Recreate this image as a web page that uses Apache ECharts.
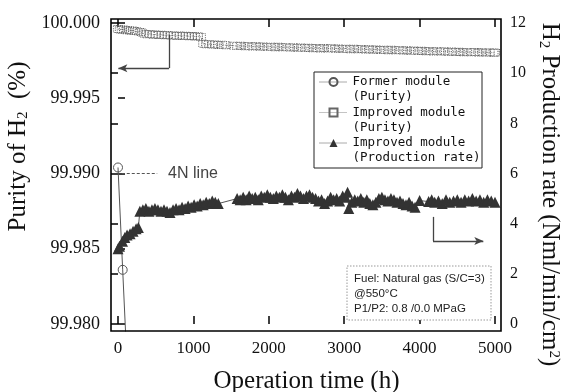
<!DOCTYPE html>
<html>
<head>
<meta charset="utf-8">
<script src="https://cdn.jsdelivr.net/npm/echarts@6.0.0/dist/echarts.min.js"></script>
<style>
  html, body { margin: 0; padding: 0; background: #fff; }
  #chart { width: 561px; height: 392px; }
</style>
</head>
<body>
<div id="chart"></div>
<script>
// former module, purity (%)
const formerTime = [0, 62, 100]
const formerPurity = [99.9904, 99.9836, 99.9795]

// improved module, purity (%)
const purityTime = [0, 25, 50, 80, 110, 140, 170, 200, 230, 260, 300, 340, 380, 420, 460, 500, 540, 580, 620, 660,
  700, 740, 780, 820, 860, 900, 940, 980, 1020, 1060, 1100, 1130, 1170, 1210, 1250, 1290, 1330, 1380, 1430,
  1530, 1580, 1630, 1680, 1730, 1780, 1830, 1880, 1930, 1980, 2030, 2080, 2130, 2180, 2230, 2280, 2330, 2380,
  2430, 2480, 2530, 2580, 2630, 2680, 2730, 2780, 2830, 2880, 2930, 2980, 3030, 3080, 3130, 3180, 3230, 3280,
  3330, 3380, 3430, 3480, 3530, 3580, 3630, 3680, 3730, 3780, 3830, 3880, 3930, 3980, 4030, 4080, 4130, 4180,
  4230, 4280, 4330, 4380, 4430, 4480, 4530, 4580, 4630, 4680, 4730, 4780, 4830, 4880, 4930, 4980, 5000]
const purityImproved = [99.99960, 99.99957, 99.99955, 99.99958, 99.99952, 99.99954, 99.99948, 99.99950, 99.99946,
  99.99944, 99.99940, 99.99930, 99.99925, 99.99928, 99.99922, 99.99924, 99.99920, 99.99922, 99.99918, 99.99920,
  99.99916, 99.99918, 99.99914, 99.99917, 99.99913, 99.99915, 99.99912, 99.99914, 99.99910, 99.99912, 99.99908,
  99.99862, 99.99858, 99.99860, 99.99856, 99.99858, 99.99854, 99.99856, 99.99852,
  99.99850, 99.99846, 99.99849, 99.99845, 99.99848, 99.99844, 99.99846, 99.99842, 99.99845, 99.99841, 99.99843,
  99.99839, 99.99842, 99.99838, 99.99840, 99.99836, 99.99839, 99.99835, 99.99838, 99.99834, 99.99836, 99.99832,
  99.99835, 99.99831, 99.99834, 99.99830, 99.99833, 99.99829, 99.99831, 99.99828, 99.99830, 99.99826, 99.99829,
  99.99825, 99.99827, 99.99823, 99.99826, 99.99822, 99.99825, 99.99821, 99.99823, 99.99819, 99.99822, 99.99818,
  99.99820, 99.99817, 99.99819, 99.99815, 99.99818, 99.99814, 99.99816, 99.99812, 99.99815, 99.99811, 99.99813,
  99.99810, 99.99812, 99.99808, 99.99811, 99.99807, 99.99809, 99.99806, 99.99808, 99.99805, 99.99807, 99.99804,
  99.99806, 99.99803, 99.99805, 99.99802, 99.99804]

// improved module, H2 production rate (Nml/min/cm2)
const prodTime = [0, 20, 60, 90, 120, 160, 200, 240, 270, 290, 330, 370, 410, 450, 490, 530, 570, 610, 650, 690,
  730, 770, 810, 850, 890, 930, 970, 1010, 1050, 1090, 1130, 1170, 1210, 1250, 1290, 1330, 1580, 1620, 1660,
  1700, 1740, 1780, 1820, 1860, 1900, 1940, 1980, 2020, 2060, 2100, 2140, 2180, 2220, 2260, 2300, 2340, 2380,
  2420, 2460, 2500, 2540, 2580, 2620, 2660, 2700, 2740, 2780, 2820, 2860, 2900, 2940, 2980, 3020, 3045, 3060,
  3100, 3140, 3180, 3220, 3260, 3300, 3340, 3380, 3420, 3460, 3500, 3540, 3580, 3620, 3660, 3700, 3740, 3780,
  3820, 3860, 3900, 3940, 4000, 4120, 4160, 4200, 4250, 4300, 4350, 4400, 4450, 4500, 4550, 4600, 4650, 4700,
  4750, 4800, 4850, 4900, 4950, 5000]
const prodRate = [3.0, 3.1, 3.3, 3.45, 3.55, 3.6, 3.7, 3.8, 3.85, 4.5, 4.55, 4.6, 4.5, 4.55, 4.6, 4.55, 4.5, 4.55,
  4.5, 4.45, 4.55, 4.6, 4.55, 4.65, 4.6, 4.7, 4.65, 4.75, 4.7, 4.8, 4.75, 4.85, 4.8, 4.9, 4.85, 4.8, 5.0, 4.95,
  5.05, 4.95, 5.1, 5.0, 5.05, 4.95, 5.1, 5.05, 5.15, 5.05, 5.0, 5.1, 5.05, 5.15, 5.05, 4.95, 5.1, 5.05, 5.2, 5.1,
  5.0, 5.1, 5.15, 5.05, 5.0, 4.9, 4.95, 4.8, 4.9, 5.05, 4.95, 5.0, 4.9, 5.1, 5.05, 5.25, 4.6, 4.85, 4.95, 4.9,
  5.0, 4.85, 4.95, 4.8, 4.75, 4.85, 5.0, 5.05, 4.95, 4.9, 5.0, 4.95, 4.85, 4.9, 4.8, 4.75, 4.85, 4.7, 4.65, 4.92,
  4.88, 4.95, 4.85, 4.9, 4.8, 4.95, 4.85, 4.9, 4.95, 4.85, 4.95, 4.9, 5.0, 4.9, 4.95, 4.85, 4.95, 4.9, 4.85]

const xTicks = [0, 1000, 2000, 3000, 4000, 5000]
const noteLines = ["Fuel: Natural gas (S/C=3)", "@550\u00b0C", "P1/P2: 0.8 /0.0 MPaG"]

const zip = (xs, ys) => xs.map((x, i) => [x, ys[i]])

const serif = "Liberation Serif"
const tickFont = { fontFamily: serif, fontSize: 17, color: "#111" }
const nameRich = {
  t: { fontFamily: serif, fontSize: 25, color: "#111" },
  s: { fontFamily: serif, fontSize: 15, color: "#111", verticalAlign: "bottom" },
  u: { fontFamily: serif, fontSize: 15, color: "#111", verticalAlign: "top" }
}
const tickStyle = { show: true, inside: true, length: 7, lineStyle: { color: "#000", width: 1.5 } }

const formerData = zip(formerTime, formerPurity)
formerData[2] = { value: formerData[2], symbol: "none" }

const option = {
  animation: false,
  backgroundColor: "#fff",
  grid: { left: 118, right: 66, top: 23, bottom: 68, outerBoundsMode: "none", containLabel: false },
  xAxis: [
    {
      type: "value", min: xTicks[0], max: xTicks[xTicks.length - 1], interval: 1000,
      offset: 7,
      axisLine: { show: false },
      axisTick: { ...tickStyle, length: 8 },
      splitLine: { show: false },
      axisLabel: { ...tickFont, margin: 9, formatter: v => String(v) },
      name: "Operation time (h)",
      nameLocation: "middle",
      nameGap: 38,
      nameTextStyle: { fontFamily: serif, fontSize: 25, color: "#111" }
    },
    {
      type: "value", position: "top", min: 0, max: 5000, interval: 1000,
      offset: 4,
      axisLine: { show: false },
      axisTick: { ...tickStyle, length: 8 },
      axisLabel: { show: false },
      splitLine: { show: false }
    }
  ],
  yAxis: [
    {
      type: "value", min: 99.98, max: 100, interval: 0.005,
      offset: 7,
      axisLine: { show: false },
      axisTick: tickStyle,
      splitLine: { show: false },
      axisLabel: { ...tickFont, fontSize: 18, margin: 11, formatter: v => v.toFixed(3) },
      name: "{t|Purity of H}{s|2}{t|  (%)}",
      nameLocation: "middle",
      nameRotate: 90,
      nameGap: 73,
      nameTextStyle: { rich: nameRich, padding: [0, 0, 0, 54] }
    },
    {
      type: "value", min: 0, max: 12, interval: 2,
      offset: 6,
      position: "right",
      axisLine: { show: false },
      axisTick: tickStyle,
      splitLine: { show: false },
      axisLabel: { ...tickFont, fontSize: 16, margin: 9 },
      name: "{t|H}{s|2}{t| Production rate (Nml/min/cm}{u|2}{t|)}",
      nameLocation: "middle",
      nameRotate: -90,
      nameGap: 29,
      nameTextStyle: { rich: nameRich, padding: [0, 0, 0, 42] }
    }
  ],
  legend: {
    orient: "vertical",
    left: 319,
    top: 59.5,
    padding: 0,
    itemGap: -14.5,
    itemWidth: 28,
    itemHeight: 10,
    selectedMode: false,
    lineStyle: { type: "dotted", width: 1 },
    formatter: name => " \n" + name,
    textStyle: { fontFamily: "DejaVu Sans Mono", fontSize: 12.5, color: "#111", lineHeight: 15 },
    data: [
      { name: "Former module\n(Purity)" },
      { name: "Improved module\n(Purity)" },
      { name: "Improved module\n(Production rate)" }
    ]
  },
  series: [
    {
      name: "Improved module\n(Purity)",
      type: "line",
      yAxisIndex: 0,
      data: zip(purityTime, purityImproved),
      symbol: "rect",
      symbolSize: [9, 7],
      itemStyle: { color: "rgba(255,255,255,0)", borderColor: "#666", borderWidth: 1, borderType: "dotted" },
      lineStyle: { color: "#888", width: 1, type: "dotted" },
      z: 2,
      markLine: {
        silent: true,
        symbol: ["none", "none"],
        label: { show: false },
        lineStyle: { color: "#555", width: 1, type: [3, 2] },
        data: [
          [{ coord: [50, 99.99] }, { coord: [520, 99.99] }],
          [{ coord: [1420, 99.99] }, { coord: [5020, 99.99] }],
          [{ coord: [676, 99.9992], lineStyle: { type: "solid", color: "#444", width: 1.3 } },
           { coord: [676, 99.9970] }],
          [{ coord: [676, 99.9970], lineStyle: { type: "solid", color: "#444", width: 1.3 } },
           { coord: [5, 99.9970], symbol: "arrow", symbolSize: [6, 9] }]
        ]
      },
      markPoint: {
        silent: true,
        symbol: "circle",
        symbolSize: 0,
        label: { show: true, formatter: "4N line", fontFamily: "Liberation Sans", fontSize: 16, color: "#444" },
        data: [{ coord: [995, 99.99] }]
      }
    },
    {
      name: "Former module\n(Purity)",
      type: "line",
      yAxisIndex: 0,
      data: formerData,
      clip: false,
      symbol: "circle",
      symbolSize: 9,
      itemStyle: { color: "rgba(255,255,255,0)", borderColor: "#555", borderWidth: 1 },
      lineStyle: { color: "#555", width: 1 },
      z: 3
    },
    {
      name: "Improved module\n(Production rate)",
      type: "line",
      yAxisIndex: 1,
      data: zip(prodTime, prodRate),
      symbol: "triangle",
      symbolSize: 11,
      itemStyle: { color: "#333" },
      lineStyle: { color: "#555", width: 1 },
      z: 4,
      markLine: {
        silent: true,
        symbol: ["none", "none"],
        label: { show: false },
        lineStyle: { color: "#444", width: 1.3, type: "solid" },
        data: [
          [{ coord: [4178, 4.27] }, { coord: [4178, 3.31] }],
          [{ coord: [4178, 3.31] }, { coord: [4845, 3.31], symbol: "arrow", symbolSize: [6, 9] }]
        ]
      }
    }
  ],
  graphic: [
    {
      type: "rect", z: 100, silent: true,
      shape: { x: 111, y: 19, width: 390, height: 312 },
      style: { fill: "none", stroke: "#000", lineWidth: 1.6 }
    },
    {
      type: "rect", z: 90, silent: true,
      shape: { x: 314, y: 72, width: 168, height: 96 },
      style: { fill: "none", stroke: "#222", lineWidth: 1 }
    },
    {
      type: "rect", z: 90, silent: true,
      shape: { x: 347, y: 266, width: 144, height: 54 },
      style: { fill: "#fff", stroke: "#999", lineWidth: 1, lineDash: [1.5, 1.5] }
    },
    {
      type: "text", z: 91, silent: true,
      left: 354, top: 271,
      style: {
        text: noteLines.join("\n"),
        font: "11.5px 'Liberation Sans'",
        lineHeight: 15,
        fill: "#222"
      }
    }
  ]
}

const chart = echarts.init(document.getElementById("chart"))
chart.setOption(option)
</script>
</body>
</html>
